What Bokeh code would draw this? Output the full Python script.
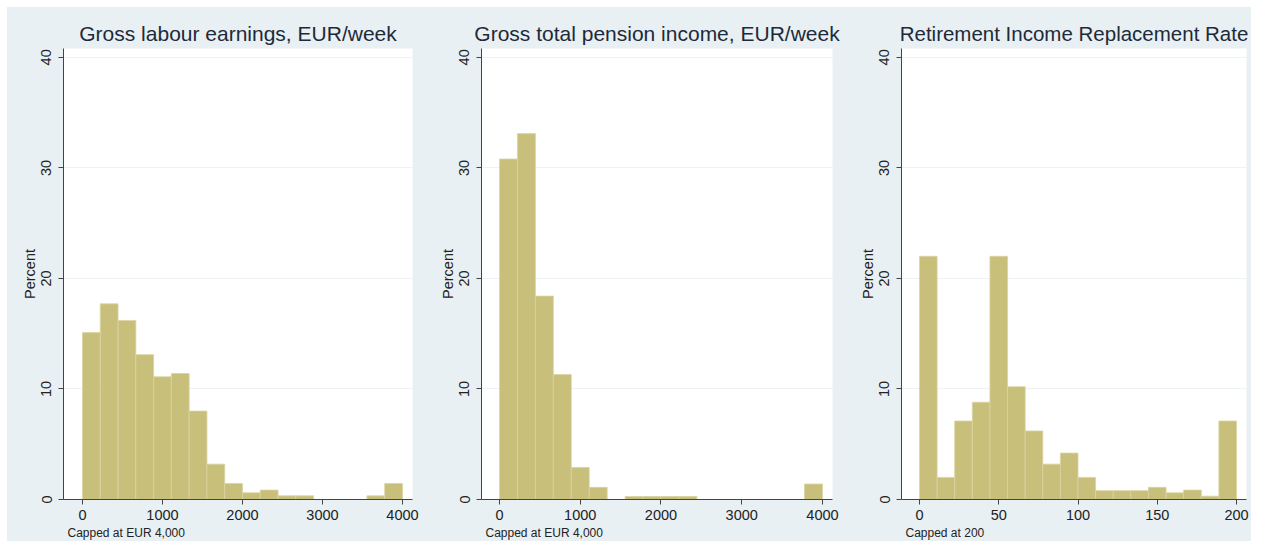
from bokeh.plotting import figure
from bokeh.models import Range1d, FixedTicker, Title, Spacer
from bokeh.layouts import row, column
from bokeh.embed import file_html
from bokeh.resources import INLINE

# ---------------- data (percent per bin, 18 equal-width bins) ----------------
labour_bin_start = 0
labour_bin_end = 4000
labour_percent = [15.1, 17.7, 16.2, 13.1, 11.1, 11.4, 8.0, 3.2, 1.45,
                  0.6, 0.85, 0.33, 0.33, 0.0, 0.0, 0.0, 0.33, 1.45]

pension_bin_start = 0
pension_bin_end = 4000
pension_percent = [30.8, 33.1, 18.4, 11.3, 2.9, 1.1, 0.0, 0.27, 0.27,
                   0.27, 0.27, 0.0, 0.0, 0.0, 0.0, 0.0, 0.0, 1.4]

rate_bin_start = 0
rate_bin_end = 200
rate_percent = [22.0, 2.0, 7.1, 8.8, 22.0, 10.2, 6.2, 3.2, 4.2,
                2.0, 0.8, 0.8, 0.8, 1.1, 0.6, 0.85, 0.3, 7.1]

titles = ["Gross labour earnings, EUR/week",
          "Gross total pension income, EUR/week",
          "Retirement Income Replacement Rate"]
notes = ["Capped at EUR 4,000", "Capped at EUR 4,000", "Capped at 200"]
money_ticks = [0, 1000, 2000, 3000, 4000]
rate_ticks = [0, 50, 100, 150, 200]
y_ticks = [0, 10, 20, 30, 40]
y_label = "Percent"

BG = "#e8f0f3"
BAR = "#c8bf7b"
BAR_EDGE = "#d9d3a2"
AXIS = "#444444"
TXT = "#222222"
TITLE_C = "#1d2a3a"
FONT = "Liberation Sans"


def make_panel(title, note, values, start, end, xticks, xr, width, bl, br, title_size):
    p = figure(width=width, height=534, output_backend="svg", toolbar_location=None,
               x_range=Range1d(*xr), y_range=Range1d(0, 40.8),
               min_border_left=bl, min_border_right=br,
               min_border_top=41, min_border_bottom=42)
    p.background_fill_color = "white"
    p.border_fill_color = BG
    p.outline_line_color = None

    n = len(values)
    w = (end - start) / n
    lefts = [start + i * w for i in range(n) if values[i] > 0]
    rights = [start + (i + 1) * w for i in range(n) if values[i] > 0]
    tops = [v for v in values if v > 0]
    p.quad(left=lefts, right=rights, bottom=0, top=tops,
           fill_color=BAR, line_color=BAR_EDGE, line_width=0.8)

    p.title.text = title
    p.title.align = "center"
    p.title.text_font = FONT
    p.title.text_font_size = title_size
    p.title.text_font_style = "normal"
    p.title.text_color = TITLE_C
    p.title.standoff = 7

    p.xaxis.ticker = FixedTicker(ticks=xticks)
    p.yaxis.ticker = FixedTicker(ticks=y_ticks)
    for ax in (p.xaxis, p.yaxis):
        ax.axis_line_color = AXIS
        ax.major_tick_line_color = AXIS
        ax.minor_tick_line_color = None
        ax.major_tick_out = 5
        ax.major_tick_in = 0
        ax.major_label_text_font = FONT
        ax.major_label_text_font_size = "14.5px"
        ax.major_label_text_color = TXT
    p.xaxis.major_label_standoff = 5
    p.yaxis.major_label_standoff = 7
    p.yaxis.major_label_orientation = "vertical"
    p.yaxis.axis_label = y_label
    p.yaxis.axis_label_text_font = FONT
    p.yaxis.axis_label_text_font_size = "14.5px"
    p.yaxis.axis_label_text_font_style = "normal"
    p.yaxis.axis_label_text_color = TXT
    p.yaxis.axis_label_standoff = 1

    p.xgrid.grid_line_color = None
    p.ygrid.grid_line_color = "#eef2f4"
    p.ygrid.grid_line_width = 1

    p.add_layout(Title(text=note, align="left", text_font=FONT,
                       text_font_size="12px", text_font_style="normal",
                       text_line_height=0.9,
                       text_color=TXT, offset=4, standoff=3), "below")
    return p


p1 = make_panel(titles[0], notes[0], labour_percent, labour_bin_start, labour_bin_end,
                money_ticks, (-237.5, 4125), 417, 56, 12, "21px")
p2 = make_panel(titles[1], notes[1], pension_percent, pension_bin_start, pension_bin_end,
                money_ticks, (-223, 4124), 417, 57, 9, "21px")
p3 = make_panel(titles[2], notes[2], rate_percent, rate_bin_start, rate_bin_end,
                rate_ticks, (-11.36, 206.3), 410, 60, 5, "20.5px")

panels = row(p1, p2, p3, spacing=0, styles={"background-color": BG})
layout = column(Spacer(height=7, width=1251),
                row(Spacer(width=7, height=534), panels, spacing=0),
                spacing=0)
open("out.html", "w").write(file_html(layout, INLINE))
